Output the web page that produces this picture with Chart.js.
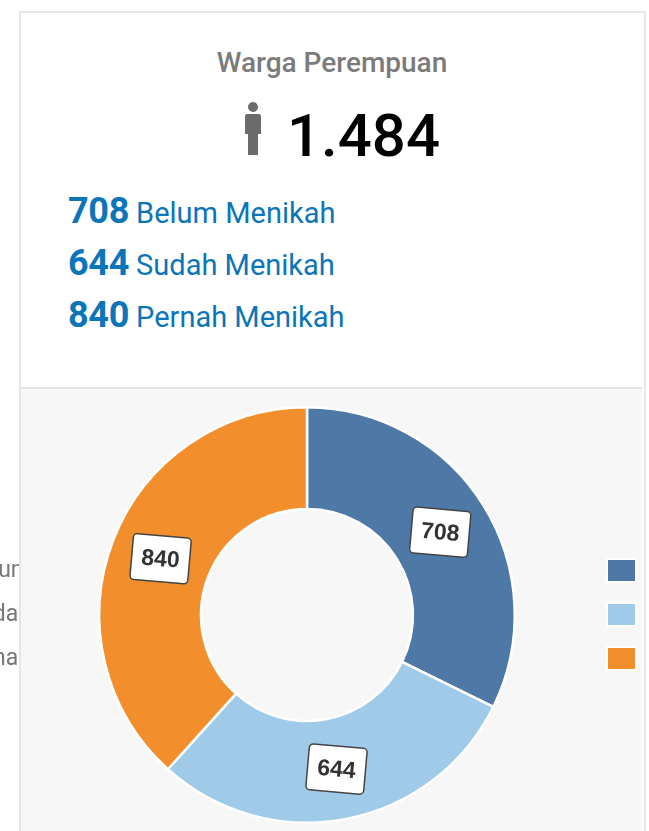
<!DOCTYPE html>
<html>
<head>
<meta charset="utf-8">
<script src="https://cdn.jsdelivr.net/npm/chart.js@4"></script>
<style>
html, body { margin: 0; padding: 0; background: #fff; overflow: hidden; font-family: Roboto, sans-serif; }
#page { position: relative; width: 649px; height: 831px; overflow: hidden; }
#card { position: absolute; left: 19px; top: 11px; width: 623px; height: 830px; border: 2px solid #e6e6e6; box-sizing: content-box; }
#panel { position: absolute; left: 21px; top: 387px; width: 621px; height: 444px; background: #f7f7f7; border-top: 2px solid #e6e6e6; box-sizing: border-box; }
#title { position: absolute; left: 21px; width: 622px; top: 46px; text-align: center; font-size: 28px; font-weight: 500; color: #7b7b7b; line-height: 34px; }
#total { position: absolute; left: 287px; top: 99px; font-size: 60px; font-weight: 500; color: #000; line-height: 74px; }
#icon { position: absolute; left: 243px; top: 101px; }
.row { position: absolute; left: 68px; color: #0a75b8; font-size: 29px; line-height: 40px; white-space: nowrap; }
.row b { font-size: 36px; font-weight: 700; margin-right: 7px; letter-spacing: -0.3px; }
#chartWrap { position: absolute; left: 0; top: 388px; width: 649px; height: 443px; }
#clip { position: absolute; left: 0; top: 0; width: 19px; height: 831px; overflow: hidden; }
.legText { position: absolute; right: -12px; font-size: 23px; line-height: 28px; color: #777; white-space: nowrap; }
.swatch { position: absolute; left: 606px; width: 27px; height: 21px; border: 2px solid #fff; }
</style>
</head>
<body>
<div id="page">
  <div id="card"></div>
  <div id="panel"></div>
  <div id="title"></div>
  <svg id="icon" width="18" height="54" viewBox="0 0 18 54">
    <circle cx="10" cy="6" r="5" fill="#6b6b6b"/>
    <path d="M4 13 H16 Q18 13 18 16 V33 H15 V54 H5 V33 H2 V16 Q2 13 4 13 Z" fill="#6b6b6b"/>
  </svg>
  <div id="total"></div>
  <div id="rows"></div>
  <div id="chartWrap"><canvas id="chart"></canvas></div>
  <div id="clip"></div>
  <div id="legend"></div>
</div>
<script>
const titleText = 'Warga Perempuan'
const totalText = '1.484'
const rowLabels = ['Belum Menikah', 'Sudah Menikah', 'Pernah Menikah']
const legendLabels = ['Belum', 'Sudah', 'Pernah']
const values = [708, 644, 840]
const colors = ['#4e79a7', '#a0cbe8', '#f28e2b']

document.getElementById('title').textContent = titleText
document.getElementById('total').textContent = totalText

rowLabels.forEach((label, i) => {
    const row = document.createElement('div')
    row.className = 'row'
    row.style.top = (191 + i * 52) + 'px'
    row.innerHTML = '<b>' + values[i] + '</b>' + label
    document.getElementById('rows').appendChild(row)

    const text = document.createElement('div')
    text.className = 'legText'
    text.style.top = (556 + i * 44) + 'px'
    text.textContent = legendLabels[i]
    document.getElementById('clip').appendChild(text)

    const box = document.createElement('div')
    box.className = 'swatch'
    box.style.top = (558 + i * 44) + 'px'
    box.style.background = colors[i]
    document.getElementById('legend').appendChild(box)
})

// white tilted tag on every slice
const tagPlugin = {
    id: 'tags',
    afterDatasetsDraw(chart) {
        const ctx = chart.ctx
        chart.getDatasetMeta(0).data.forEach((arc, i) => {
            const p = arc.getCenterPoint()
            ctx.save()
            ctx.translate(p.x, p.y)
            ctx.rotate(5 * Math.PI / 180)
            ctx.beginPath()
            ctx.roundRect(-29, -23, 58, 46, 4)
            ctx.fillStyle = '#fff'
            ctx.fill()
            ctx.lineWidth = 1.5
            ctx.strokeStyle = '#444'
            ctx.stroke()
            ctx.fillStyle = '#333'
            ctx.font = 'bold 23px "Liberation Sans", Arial, sans-serif'
            ctx.textAlign = 'center'
            ctx.textBaseline = 'middle'
            ctx.fillText(values[i], 0, 1)
            ctx.restore()
        })
    }
}

new Chart(document.getElementById('chart').getContext('2d'), {
    type: 'doughnut',
    data: {
        labels: legendLabels,
        datasets: [{ data: values, backgroundColor: colors, borderColor: '#fff', borderWidth: 2.5 }]
    },
    options: {
        responsive: true,
        maintainAspectRatio: false,
        animation: false,
        cutout: '51%',
        layout: { padding: { left: 98, right: 133, top: 18, bottom: 7 } },
        plugins: { legend: { display: false }, tooltip: { enabled: false } }
    },
    plugins: [tagPlugin]
})
</script>
</body>
</html>
